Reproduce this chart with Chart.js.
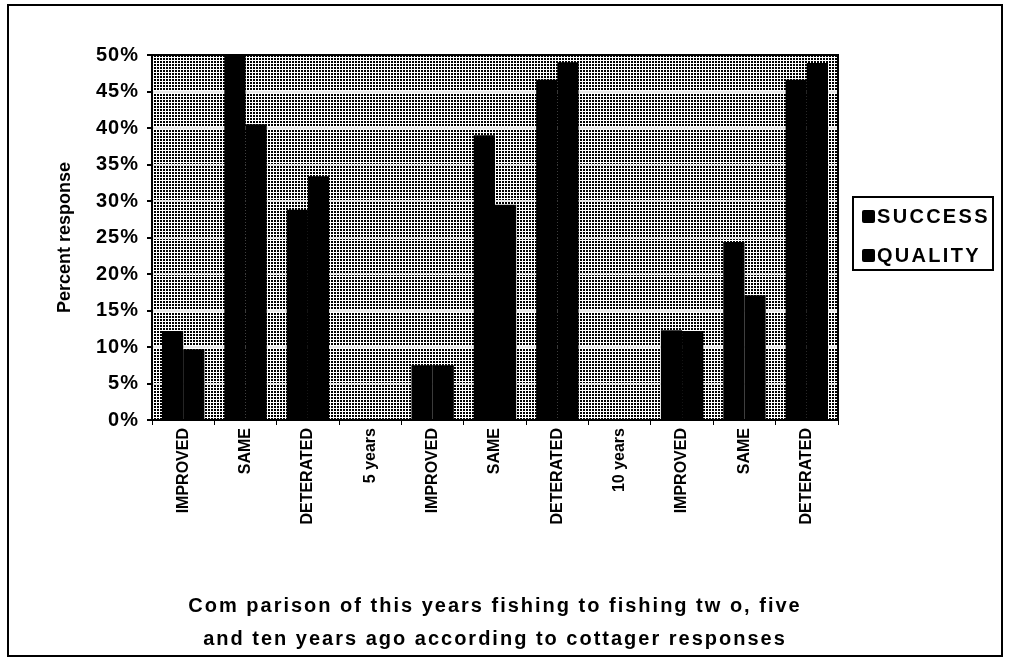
<!DOCTYPE html>
<html>
<head>
<meta charset="utf-8">
<script src="https://cdn.jsdelivr.net/npm/chart.js@4/dist/chart.umd.min.js"></script>
<style>
  html, body { margin: 0; padding: 0; background: #ffffff; }
  #wrap { width: 1009px; height: 660px; position: relative; }
</style>
</head>
<body>
<div id="wrap"><canvas id="c" width="1009" height="660"></canvas></div>
<script>
// Response categories along the bottom axis
const categories = ['IMPROVED', 'SAME', 'DETERATED', '5 years', 'IMPROVED', 'SAME', 'DETERATED', '10 years', 'IMPROVED', 'SAME', 'DETERATED'];
// Percent of cottagers answering, per category
const successValues = [12.2, 50, 28.8, null, 7.5, 39, 46.6, null, 12.3, 24.4, 46.6];
const qualityValues = [9.7, 40.5, 33.4, null, 7.5, 29.5, 49, null, 12.2, 17.1, 48.9];
const seriesLabels = ['SUCCESS', 'QUALITY'];
const yTicks = [0, 5, 10, 15, 20, 25, 30, 35, 40, 45, 50];
const xTitle = ['Com parison of this years fishing to fishing tw o, five', 'and ten years ago according to cottager responses'];
const yTitle = 'Percent response';

const FONT = '"Liberation Sans", Arial, sans-serif';

// Extra letter spacing per scale part (wide, heavy lettering)
const spacing = {
  x: { labels: '0px', title: '2px' },
  y: { labels: '1px', title: '0px' }
};

// Screen-like halftone texture for the plot background
function makeTexture() {
  const t = document.createElement('canvas');
  t.width = 3; t.height = 3;
  const g = t.getContext('2d');
  g.fillStyle = '#000000';
  g.fillRect(0, 0, 3, 3);
  g.fillStyle = '#ffffff';
  g.fillRect(0, 0, 3, 1);
  g.fillRect(0, 0, 1, 3);
  return t;
}

function withSpacing(fn, value) {
  return function (...args) {
    const c = this.ctx;
    const prev = c.letterSpacing;
    c.letterSpacing = value;
    fn.apply(this, args);
    c.letterSpacing = prev;
  };
}

const framePlugin = {
  id: 'frame',
  beforeDraw(chart) {
    Object.keys(spacing).forEach(id => {
      const s = chart.scales[id];
      if (s && !s._spaced) {
        s.drawLabels = withSpacing(s.drawLabels, spacing[id].labels);
        s.drawTitle = withSpacing(s.drawTitle, spacing[id].title);
        s._spaced = true;
      }
    });
    const { ctx, chartArea: a } = chart;
    ctx.save();
    ctx.fillStyle = '#ffffff';
    ctx.fillRect(0, 0, chart.width, chart.height);
    ctx.fillStyle = ctx.createPattern(makeTexture(), 'repeat');
    ctx.fillRect(a.left, a.top, a.right - a.left, a.bottom - a.top);
    ctx.restore();
  },
  afterDraw(chart) {
    const { ctx, chartArea: a } = chart;
    ctx.save();
    ctx.strokeStyle = '#000000';
    // plot frame
    ctx.lineWidth = 2;
    ctx.strokeRect(a.left, a.top, a.right - a.left, a.bottom - a.top);
    // outer border
    ctx.strokeRect(8, 5, 994, 651);

    // legend box
    const lx = a.right + 15, ly = 197, lw = 140, lh = 73;
    ctx.strokeRect(lx, ly, lw, lh);
    ctx.font = 'bold 20px ' + FONT;
    ctx.letterSpacing = '2.3px';
    ctx.textBaseline = 'middle';
    ctx.textAlign = 'left';
    chart.data.datasets.forEach((ds, i) => {
      const cy = ly + 19 + i * 39;
      ctx.fillStyle = ds.backgroundColor;
      ctx.beginPath();
      ctx.roundRect(lx + 9, cy - 6, 13, 13, 2);
      ctx.fill();
      ctx.fillStyle = '#000000';
      ctx.fillText(ds.label, lx + 24, cy + 1);
    });
    ctx.restore();
  }
};

new Chart(document.getElementById('c'), {
  type: 'bar',
  data: {
    labels: categories,
    datasets: [
      { label: seriesLabels[0], data: successValues, backgroundColor: '#000000' },
      { label: seriesLabels[1], data: qualityValues, backgroundColor: '#000000' }
    ]
  },
  options: {
    responsive: false,
    animation: false,
    devicePixelRatio: 1,
    layout: { padding: { left: 8, right: 171, top: 55, bottom: 4 } },
    datasets: { bar: { categoryPercentage: 0.68, barPercentage: 1.0 } },
    plugins: {
      legend: { display: false },
      tooltip: { enabled: false }
    },
    scales: {
      x: {
        afterFit(s) { s.height = 236; },
        grid: { drawOnChartArea: false, color: '#000000', tickColor: '#000000', tickLength: 5, lineWidth: 1, offset: true },
        border: { display: true, color: '#000000', width: 2 },
        ticks: {
          color: '#000000',
          autoSkip: false,
          maxRotation: 90,
          minRotation: 90,
          padding: 3,
          font: { family: FONT, size: 16, weight: 'bold' }
        },
        title: {
          display: true,
          text: xTitle,
          color: '#000000',
          padding: { top: 0, bottom: 0 },
          font: { family: FONT, size: 20, weight: 'bold', lineHeight: 33 / 20 }
        }
      },
      y: {
        min: 0,
        max: 50,
        afterFit(s) { s.width = 144; },
        afterBuildTicks(s) { s.ticks = yTicks.map(v => ({ value: v })); },
        grid: { color: '#e8e8e8', lineWidth: 2, tickColor: '#000000', tickLength: 5 },
        border: { display: true, color: '#000000', width: 2 },
        ticks: {
          color: '#000000',
          padding: 8,
          font: { family: FONT, size: 20, weight: 'bold' },
          callback: v => v + '%'
        },
        title: {
          display: true,
          text: yTitle,
          color: '#000000',
          padding: { top: 46, bottom: 0 },
          font: { family: FONT, size: 18, weight: 'bold' }
        }
      }
    }
  },
  plugins: [framePlugin]
});
</script>
</body>
</html>
